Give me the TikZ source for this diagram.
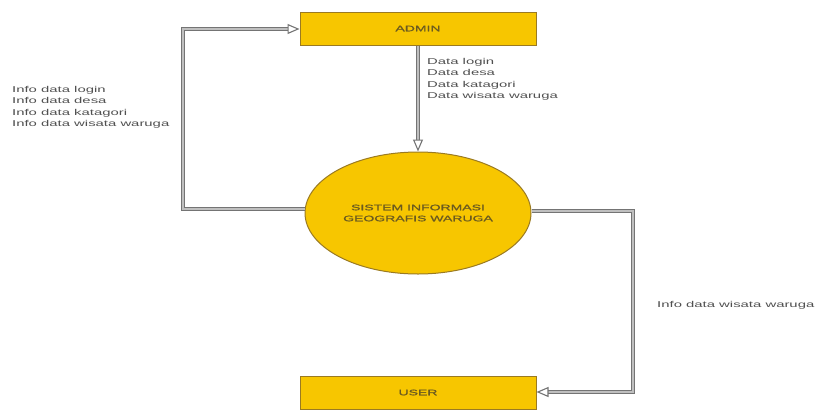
\documentclass[tikz,border=0pt]{standalone}
\usepackage{fontspec}
\setmainfont{Liberation Sans}
\newfontfamily\widefont[FakeStretch=1.75]{Liberation Sans}
\newfontfamily\widebold[FakeStretch=1.75,FakeBold=1.2]{Liberation Sans}
\usetikzlibrary{arrows.meta,shapes.geometric}
\definecolor{boxfill}{HTML}{F7C600}
\definecolor{boxline}{HTML}{9A7A22}
\definecolor{linegray}{HTML}{747474}
\definecolor{txtgray}{HTML}{505050}
\definecolor{boxtxt}{HTML}{6A5A20}
\tikzset{
  entity/.style={draw=boxline, line width=1pt, fill=boxfill, minimum width=236pt, minimum height=33pt, inner sep=0pt, text=boxtxt, font=\widebold\fontsize{8}{9}\selectfont},
  process/.style={draw=boxline, line width=1pt, fill=boxfill, ellipse, minimum width=226pt, minimum height=122pt, inner sep=0pt, text=boxtxt, align=center, font=\widebold\fontsize{8}{11}\selectfont},
  flow/.style={draw=linegray, line width=1pt, double=gray!50, double distance=1.8pt, -{Triangle[open, length=12pt, width=10pt, line width=1.1pt]}},
  lbl/.style={text=txtgray, align=left, inner sep=0pt, anchor=north west, font=\widefont\fontsize{8.5}{11.5}\selectfont}
}
\begin{document}
\begin{tikzpicture}[x=1pt,y=-1pt]
\useasboundingbox (0,0) rectangle (818,410);
\node[entity] (admin) at (418,28.5) {ADMIN};
\node[entity] (user) at (418,392.5) {USER};
\node[process] (sys) at (418,213) {SISTEM INFORMASI\\GEOGRAFIS WARUGA};
\coordinate (lb) at (183,209);
\coordinate (lt) at (183,29);
\coordinate (rt) at (633,211);
\coordinate (rb) at (633,392);
% flows
\draw[flow] (admin.south) -- (sys.north);
\draw[flow] (sys.west |- lb) -- (lb) -- (lt) -- (admin.west |- lt);
\draw[flow] (sys.east |- rt) -- (rt) -- (rb) -- (user.east |- rb);
% labels
\node[lbl] (l1) at (12,86) {Info data login\\Info data desa\\Info data katagori\\Info data wisata waruga};
\node[lbl] (l2) at (427,58) {Data login\\Data desa\\Data katagori\\Data wisata waruga};
\node[lbl] (l3) at (657,301) {Info data wisata waruga};
\end{tikzpicture}
\end{document}
